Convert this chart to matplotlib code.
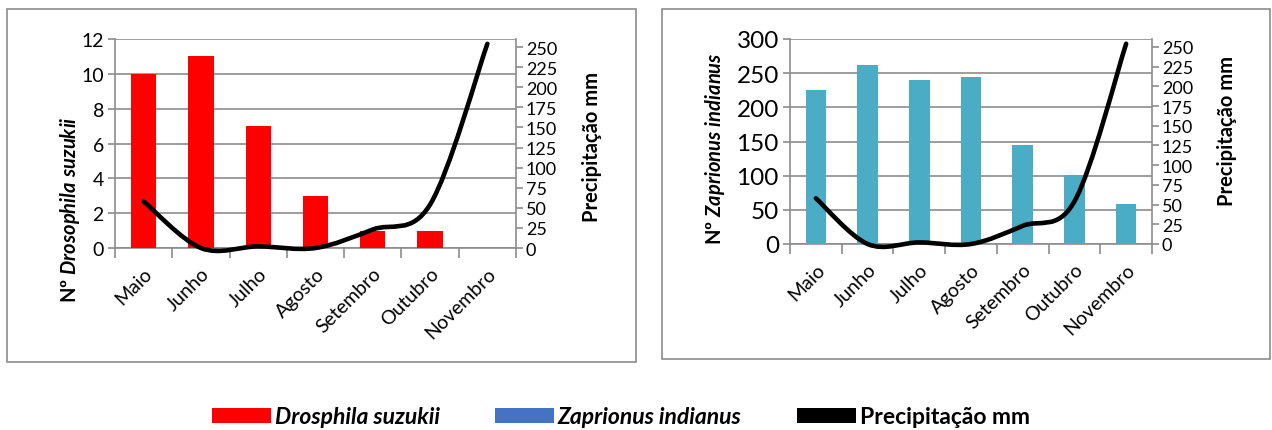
import matplotlib
matplotlib.use("Agg")
import matplotlib.pyplot as plt
from matplotlib.patches import Rectangle, Patch, PathPatch
from matplotlib.path import Path
import numpy as np

plt.rcParams['font.family'] = ['Lato', 'DejaVu Sans']
plt.rcParams['mathtext.fontset'] = 'custom'
plt.rcParams['mathtext.rm'] = 'Lato:bold'
plt.rcParams['mathtext.it'] = 'Lato:italic:bold'
plt.rcParams['mathtext.bf'] = 'Lato:bold'

meses = ["Maio", "Junho", "Julho", "Agosto", "Setembro", "Outubro", "Novembro"]
drosophila = [10, 11, 7, 3, 1, 1, 0]
zaprionus = [225, 262, 240, 245, 145, 101, 58]
precipitacao = [58, 0, 2, 0, 23, 54, 254]

GRID = "#8c8c8c"


def smooth_path(xs, ys):
    # Excel-like smoothed line (Catmull-Rom as cubic Bezier)
    pts = np.column_stack([xs, ys]).astype(float)
    n = len(pts)
    verts = [pts[0]]
    codes = [Path.MOVETO]
    for i in range(n - 1):
        p0 = pts[i - 1] if i > 0 else pts[i]
        p1 = pts[i]
        p2 = pts[i + 1]
        p3 = pts[i + 2] if i + 2 < n else pts[i + 1]
        c1 = p1 + (p2 - p0) / 6.0
        c2 = p2 - (p3 - p1) / 6.0
        verts += [c1, c2, p2]
        codes += [Path.CURVE4] * 3
    return Path(verts, codes)


def painel(rect, valores, cor, largura, ymax, ystep, ylabel, ylab_pos, ytick_size, rlab_pos):
    ax = fig.add_axes(rect)
    x = np.arange(len(meses))
    ax.bar(x, valores, width=largura, color=cor, zorder=3)
    ax.set_xlim(-0.5, len(meses) - 0.5)
    ax.set_ylim(0, ymax)
    ax.set_yticks(np.arange(0, ymax + 1, ystep))
    ax.yaxis.grid(True, color=GRID, linewidth=1.2, zorder=0)
    ax.set_axisbelow(True)
    for s in ["top", "right"]:
        ax.spines[s].set_visible(False)
    for s in ["left", "bottom"]:
        ax.spines[s].set_color(GRID)
        ax.spines[s].set_linewidth(1.2)
    ax.set_xticks(np.arange(-0.5, len(meses), 1.0))
    ax.set_xticklabels([])
    ax.set_xticks(x, minor=True)
    ax.set_xticklabels(meses, minor=True, rotation=45, ha="right",
                       rotation_mode="anchor", fontsize=14)
    ax.tick_params(axis="x", which="major", length=7, color=GRID, width=1.2)
    ax.tick_params(axis="x", which="minor", length=0, pad=12)
    ax.tick_params(axis="y", length=5, color=GRID, width=1.2,
                   labelsize=ytick_size, pad=3)
    ax.set_ylabel(ylabel, fontsize=14.5, fontweight="bold")
    ax.yaxis.set_label_coords(*ylab_pos)

    ax2 = ax.twinx()
    ax2.set_ylim(0, 260)
    ax2.set_yticks(np.arange(0, 251, 25))
    for s in ["top", "left", "bottom"]:
        ax2.spines[s].set_visible(False)
    ax2.spines["right"].set_color(GRID)
    ax2.spines["right"].set_linewidth(1.2)
    ax2.tick_params(axis="y", length=5, color=GRID, width=1.2,
                    labelsize=13, pad=2)
    ax2.add_patch(PathPatch(smooth_path(x, precipitacao), facecolor="none",
                            edgecolor="black", linewidth=3.3, capstyle="round",
                            zorder=4, clip_on=False))
    ax2.set_ylabel("Precipitação mm", fontsize=14.5, fontweight="bold")
    ax2.yaxis.set_label_coords(*rlab_pos)
    return ax


fig = plt.figure(figsize=(12.72, 4.31), dpi=100)

# frames around each chart
fig.patches.append(Rectangle((7 / 1272, 1 - 363 / 431), 629 / 1272, 353 / 431,
                             transform=fig.transFigure, fill=False,
                             edgecolor=GRID, linewidth=1.2))
fig.patches.append(Rectangle((662 / 1272, 1 - 360 / 431), 608 / 1272, 350 / 431,
                             transform=fig.transFigure, fill=False,
                             edgecolor=GRID, linewidth=1.2))

painel([115 / 1272, 1 - 249 / 431, 401 / 1272, 209 / 431], drosophila, "#ff0000", 0.44,
       12, 2, r"Nº $Drosophila\ suzukii$", (-0.082, 0.19), 14, (1.165, 0.49))
painel([790 / 1272, 1 - 245 / 431, 362 / 1272, 205 / 431], zaprionus, "#4bacc6", 0.4,
       300, 50, r"Nº $Zaprionus\ indianus$", (-0.174, 0.47), 17.5, (1.18, 0.556))

handles = [Patch(facecolor="#ff0000"), Patch(facecolor="#4472c4"), Patch(facecolor="black")]
leg = fig.legend(handles, ["Drosphila suzukii", "Zaprionus indianus", "Precipitação mm"],
                 loc="center", bbox_to_anchor=(0.488, 1 - 418 / 431), ncol=3,
                 frameon=False, fontsize=16.5, handlelength=2.6, handleheight=0.6,
                 handletextpad=0.15, columnspacing=2.4)
for t, st in zip(leg.get_texts(), ["italic", "italic", "normal"]):
    t.set_fontstyle(st)
    t.set_fontweight("bold")

fig.savefig("out.png", dpi=100)
